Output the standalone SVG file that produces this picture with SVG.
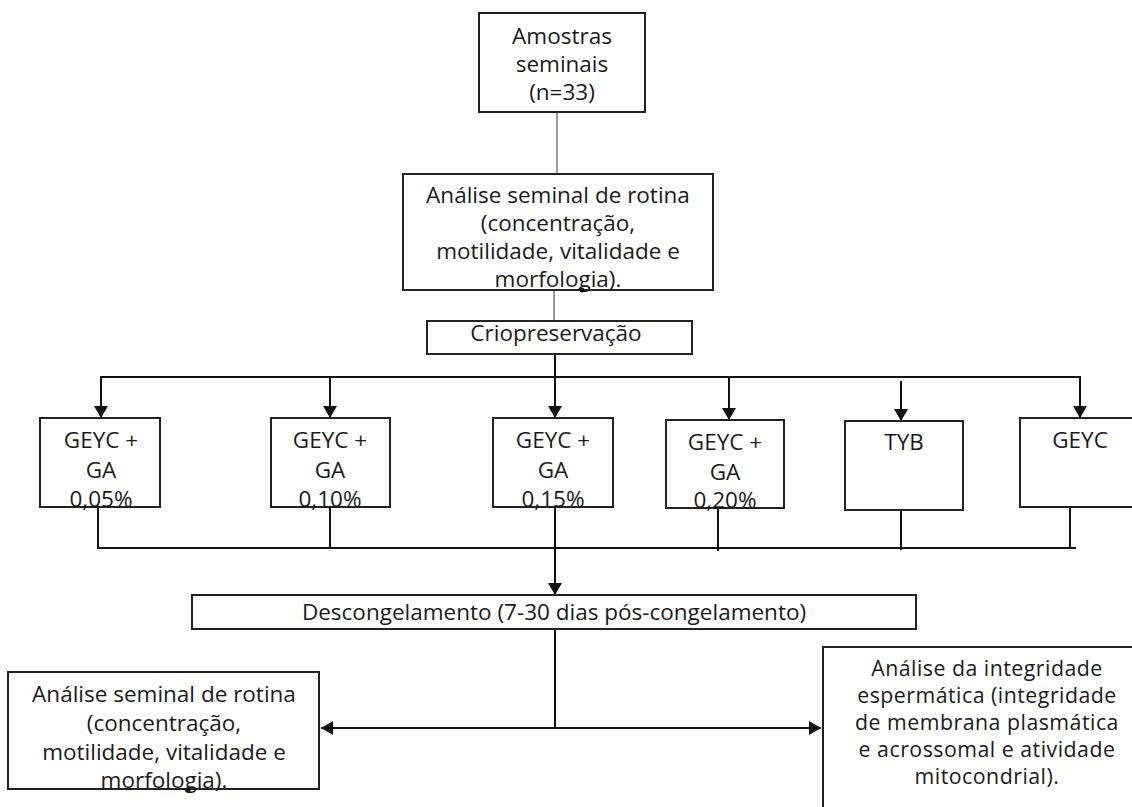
<svg xmlns="http://www.w3.org/2000/svg" width="1132" height="807" viewBox="0 0 1132 807">
<style>
  .box { fill: #fff; stroke: #222; stroke-width: 2; }
  .t { font-family: "Open Sans", "Noto Sans", sans-serif; font-size: 22.5px; fill: #1a1a1a; text-anchor: middle; }
  .ts { font-size: 21.3px; letter-spacing: 0.5px; }
  .ln { fill: none; stroke: #111; stroke-width: 2; }
  .thin { fill: none; stroke: #666; stroke-width: 1.3; }
  .arr { marker-end: url(#ah); }
</style>
<defs>
  <marker id="ah" viewBox="0 0 12 14" refX="12" refY="7" markerWidth="12" markerHeight="14" markerUnits="userSpaceOnUse" orient="auto">
    <path d="M0,0 L12,7 L0,14 z" fill="#111"/>
  </marker>
</defs>
<rect width="1132" height="807" fill="#fff"/>

<g id="connectors">
  <line class="thin" x1="557" y1="112" x2="557" y2="174"/>
  <line class="thin" x1="554" y1="290" x2="554" y2="321"/>
  <polyline class="ln" points="101,418 101,377 1080,377 1080,418"/>
  <line class="ln arr" x1="101" y1="380" x2="101" y2="418"/>
  <line class="ln arr" x1="330" y1="377" x2="330" y2="418"/>
  <line class="ln arr" x1="555" y1="354" x2="555" y2="418"/>
  <line class="ln arr" x1="729" y1="377" x2="729" y2="420"/>
  <line class="ln arr" x1="901" y1="381" x2="901" y2="421"/>
  <line class="ln arr" x1="1080" y1="380" x2="1080" y2="418"/>
  <polyline class="ln" points="98,507 98,548 1076,548"/>
  <line class="ln" x1="330" y1="507" x2="330" y2="548"/>
  <line class="ln" x1="718" y1="508" x2="718" y2="551"/>
  <line class="ln" x1="901" y1="510" x2="901" y2="550"/>
  <line class="ln" x1="1070" y1="507" x2="1070" y2="548"/>
  <line class="ln arr" x1="555" y1="507" x2="555" y2="595"/>
  <line class="ln" x1="555" y1="629" x2="555" y2="728"/>
  <line class="ln arr" x1="555" y1="728" x2="321" y2="728"/>
  <line class="ln arr" x1="555" y1="728" x2="821" y2="728"/>
</g>

<g id="amostras">
  <rect class="box" x="479" y="13" width="166" height="99"/>
  <text class="t" x="562" y="44">Amostras</text>
  <text class="t" x="562" y="72">seminais</text>
  <text class="t" x="562" y="100">(n=33)</text>
</g>

<g id="analise1">
  <rect class="box" x="403" y="174" width="310" height="116"/>
  <text class="t" x="558" y="203">Análise seminal de rotina</text>
  <text class="t" x="558" y="231">(concentração,</text>
  <text class="t" x="558" y="259">motilidade, vitalidade e</text>
  <text class="t" x="558" y="287">morfologia).</text>
  <circle cx="582" cy="290" r="2.5" fill="#111"/>
</g>

<g id="crio">
  <rect class="box" x="427" y="321" width="265" height="33"/>
  <text class="t" x="556" y="341">Criopreservação</text>
</g>

<g id="g005">
  <rect class="box" x="40" y="418" width="120" height="89"/>
  <text class="t" x="101" y="448">GEYC +</text>
  <text class="t" x="101" y="478">GA</text>
  <text class="t" x="101" y="507">0,05%</text>
</g>
<g id="g010">
  <rect class="box" x="271" y="418" width="119" height="89"/>
  <text class="t" x="330" y="448">GEYC +</text>
  <text class="t" x="330" y="478">GA</text>
  <text class="t" x="330" y="507">0,10%</text>
</g>
<g id="g015">
  <rect class="box" x="493" y="418" width="120" height="89"/>
  <text class="t" x="553" y="448">GEYC +</text>
  <text class="t" x="553" y="478">GA</text>
  <text class="t" x="553" y="507">0,15%</text>
</g>
<g id="g020">
  <rect class="box" x="666" y="420" width="118" height="88"/>
  <text class="t" x="725" y="450">GEYC +</text>
  <text class="t" x="725" y="480">GA</text>
  <text class="t" x="725" y="508">0,20%</text>
</g>
<g id="tyb">
  <rect class="box" x="845" y="421" width="118" height="89"/>
  <text class="t" x="904" y="450">TYB</text>
</g>
<g id="geyc">
  <rect class="box" x="1020" y="418" width="130" height="89"/>
  <text class="t" x="1080" y="448">GEYC</text>
</g>

<g id="descongelamento">
  <rect class="box" x="192" y="595" width="724" height="34"/>
  <text class="t" x="554" y="620">Descongelamento (7-30 dias pós-congelamento)</text>
</g>

<g id="analise2">
  <rect class="box" x="8" y="672" width="311" height="117"/>
  <text class="t" x="164" y="702">Análise seminal de rotina</text>
  <text class="t" x="164" y="731">(concentração,</text>
  <text class="t" x="164" y="760">motilidade, vitalidade e</text>
  <text class="t" x="164" y="788">morfologia).</text>
  <circle cx="188" cy="790" r="2.5" fill="#111"/>
</g>

<g id="integridade">
  <rect class="box" x="823" y="647" width="330" height="180"/>
  <text class="t ts" x="987" y="676">Análise da integridade</text>
  <text class="t ts" x="987" y="703">espermática (integridade</text>
  <text class="t ts" x="987" y="730">de membrana plasmática</text>
  <text class="t ts" x="987" y="757">e acrossomal e atividade</text>
  <text class="t ts" x="987" y="784">mitocondrial).</text>
</g>
</svg>
